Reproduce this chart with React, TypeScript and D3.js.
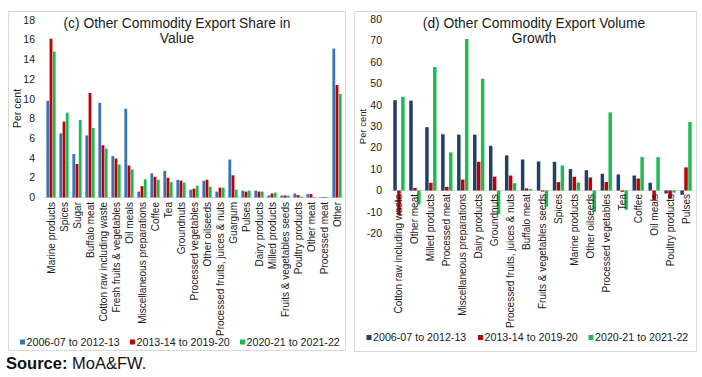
import React from "react";
import * as d3 from "d3";

const seriesNames = ["2006-07 to 2012-13", "2013-14 to 2019-20", "2020-21 to 2021-22"];

const leftCategories = [
  "Marine products", "Spices", "Sugar", "Buffalo meat", "Cotton raw including waste",
  "Fresh fruits & vegetables", "Oil meals", "Miscellaneous preparations", "Coffee", "Tea",
  "Groundnuts", "Processed vegetables", "Other oilseeds", "Processed fruits, juices & nuts",
  "Guargum", "Pulses", "Dairy products", "Milled products", "Fruits & vegetables seeds",
  "Poultry products", "Other meat", "Processed meat", "Other",
];
const leftS1 = [9.8, 6.5, 4.4, 6.3, 9.6, 4.2, 9.0, 0.6, 2.45, 2.7, 1.8, 0.8, 1.7, 0.6, 3.85, 0.7, 0.7, 0.2, 0.2, 0.4, 0.35, 0.03, 15.1];
const leftS2 = [16.1, 7.7, 3.4, 10.6, 5.3, 3.95, 3.25, 1.15, 2.1, 2.0, 1.7, 0.9, 1.8, 1.0, 2.25, 0.6, 0.6, 0.4, 0.2, 0.25, 0.35, 0.03, 11.4];
const leftS3 = [14.8, 8.6, 7.85, 7.05, 4.95, 3.35, 2.85, 1.85, 1.8, 1.55, 1.5, 1.2, 1.1, 1.0, 0.8, 0.7, 0.6, 0.5, 0.2, 0.1, 0.05, 0.02, 10.5];
const leftTicks = [0, 2, 4, 6, 8, 10, 12, 14, 16, 18];

const rightCategories = [
  "Cotton raw including waste", "Other meat", "Milled products", "Processed meat",
  "Miscellaneous preparations", "Dairy products", "Groundnuts", "Processed fruits, juices & nuts",
  "Buffalo meat", "Fruits & vegetables seeds", "Spices", "Marine products", "Other oilseeds",
  "Processed vegetables", "Tea", "Coffee", "Oil meals", "Poultry products", "Pulses",
];
const rightS1 = [42.2, 42.0, 29.6, 26.3, 26.1, 26.1, 20.9, 16.4, 14.5, 13.6, 13.4, 10.0, 9.5, 7.8, 7.5, 7.0, 3.6, -1.4, -2.0];
const rightS2 = [-11.5, 1.2, 3.6, 1.7, 5.1, 13.4, 6.5, 7.0, 1.0, -0.5, 3.9, 6.4, 6.1, 4.0, -0.6, 5.6, -4.5, -3.8, 10.8];
const rightS3 = [43.8, -6.5, 57.7, 17.8, 70.8, 52.2, -11.0, 3.4, 0.7, -7.5, 11.7, 3.7, -10.0, 36.5, -9.0, 15.6, 15.6, -1.0, 32.0];
const rightTicks = [-20, -10, 0, 10, 20, 30, 40, 50, 60, 70, 80];

const FONT = "'Liberation Sans', Arial, sans-serif";
const TEXT = "#1a1a1a";

type PanelProps = {
  categories: string[];
  series: number[][];
  colors: string[];
  ticks: number[];
  domain: [number, number];
  yRange: [number, number];
  xRange: [number, number];
  tickX: number;
  labelY: number;
  perCent: { x: number; y: number; size: number };
  title: string[];
  titleX: number;
  legend: { xs: number[]; y: number };
  frame: { x: number; y: number; w: number; h: number };
};

function Panel(p: PanelProps) {
  const x0 = d3.scaleBand<string>().domain(p.categories).range(p.xRange).paddingInner(0.23).paddingOuter(0.115);
  const x1 = d3.scaleBand<number>().domain([0, 1, 2]).range([0, x0.bandwidth()]).padding(0.12);
  const y = d3.scaleLinear().domain(p.domain).range(p.yRange);
  const y0 = y(0);
  return (
    <g>
      <rect x={p.frame.x + 0.5} y={p.frame.y + 0.5} width={p.frame.w} height={p.frame.h} fill="#fff" stroke="#d9d9d9" />
      {p.title.map((t, i) => (
        <text key={i} x={p.titleX} y={27.5 + i * 15.5} textAnchor="middle" fontSize={13.8} fill={TEXT} fontFamily={FONT}>{t}</text>
      ))}
      {p.ticks.map((t) => (
        <text key={t} x={p.tickX} y={y(t)} dy="0.35em" textAnchor="end" fontSize={10.5} fill={TEXT} fontFamily={FONT}>{t}</text>
      ))}
      <text transform={`translate(${p.perCent.x},${p.perCent.y}) rotate(-90)`} textAnchor="middle" dy="0.35em" fontSize={p.perCent.size} fill={TEXT} fontFamily={FONT}>Per cent</text>
      <line x1={p.xRange[0]} x2={p.xRange[1]} y1={y0} y2={y0} stroke="#d9d9d9" />
      {p.categories.map((c, ci) => (
        <g key={c} transform={`translate(${x0(c)},0)`}>
          {p.series.map((s, si) => {
            const v = s[ci];
            return (
              <rect key={si} x={x1(si)} width={x1.bandwidth()} y={Math.min(y(v), y0)} height={Math.max(Math.abs(y(v) - y0), 0.6)} fill={p.colors[si]} />
            );
          })}
        </g>
      ))}
      {p.categories.map((c) => {
        const cx = (x0(c) as number) + x0.bandwidth() / 2;
        return (
          <text key={c} transform={`translate(${cx},${p.labelY}) rotate(-90)`} textAnchor="end" dy="0.35em" fontSize={10} fill={TEXT} fontFamily={FONT}>{c}</text>
        );
      })}
      {seriesNames.map((n, i) => (
        <g key={n}>
          <rect x={p.legend.xs[i]} y={p.legend.y - 2.5} width={5} height={5} fill={p.colors[i]} />
          <text x={p.legend.xs[i] + 6.5} y={p.legend.y} dy="0.35em" fontSize={10.7} fill={TEXT} fontFamily={FONT}>{n}</text>
        </g>
      ))}
    </g>
  );
}

export default function App() {
  return (
    <svg width={702} height={377} style={{ position: "absolute", left: 0, top: 0, background: "#fff" }}>
      <rect width={702} height={377} fill="#fff" />
      <Panel
        categories={leftCategories}
        series={[leftS1, leftS2, leftS3]}
        colors={["#3A72B8", "#C00000", "#1DB954"]}
        ticks={leftTicks}
        domain={[0, 18]}
        yRange={[197.5, 20]}
        xRange={[44.5, 343.5]}
        tickX={35}
        labelY={202}
        perCent={{ x: 17.5, y: 108.5, size: 10.5 }}
        title={["(c) Other Commodity Export Share in", "Value"]}
        titleX={177}
        legend={{ xs: [20, 130, 240], y: 342 }}
        frame={{ x: 8, y: 11, w: 337, h: 339 }}
      />
      <Panel
        categories={rightCategories}
        series={[rightS1, rightS2, rightS3]}
        colors={["#1F3F66", "#C00000", "#1DB954"]}
        ticks={rightTicks}
        domain={[-20, 80]}
        yRange={[233.3, 19.3]}
        xRange={[391, 694]}
        tickX={382}
        labelY={194}
        perCent={{ x: 362.5, y: 126.5, size: 9.5 }}
        title={["(d) Other Commodity Export Volume", "Growth"]}
        titleX={534}
        legend={{ xs: [366.5, 478, 588.5], y: 337.5 }}
        frame={{ x: 354, y: 11, w: 342, h: 340 }}
      />
      <text x={6} y={369} fontSize={16.5} fill="#111" fontFamily={FONT}>
        <tspan fontWeight="bold">Source:</tspan>
        <tspan> MoA&amp;FW.</tspan>
      </text>
    </svg>
  );
}
